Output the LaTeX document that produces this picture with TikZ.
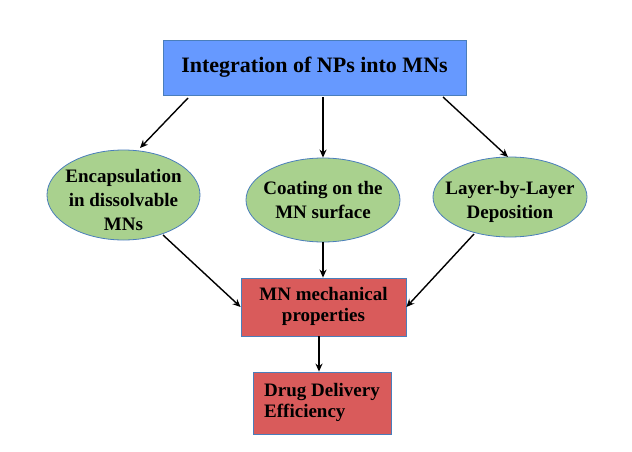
\documentclass[tikz,border=0pt]{standalone}
\usepackage{fontspec}
\setmainfont{Liberation Serif}
\usetikzlibrary{shapes.geometric,arrows.meta}
\definecolor{topblue}{HTML}{6699FF}
\definecolor{edgeblue}{HTML}{4A7EBB}
\definecolor{ovalgreen}{HTML}{A9D18E}
\definecolor{boxred}{HTML}{D95B5B}
\tikzset{
  topbox/.style={rectangle,draw=edgeblue,fill=topblue,line width=0.8pt,minimum width=303pt,minimum height=55pt,inner sep=0pt,font=\fontsize{22}{24}\selectfont\bfseries},
  oval/.style={ellipse,draw=edgeblue,fill=ovalgreen,line width=0.8pt,inner sep=0pt},
  ovaltext/.style={align=center,font=\fontsize{19}{24}\selectfont\bfseries,inner sep=0pt},
  redbox/.style={rectangle,draw=edgeblue,fill=boxred,line width=0.8pt,inner sep=0pt,align=left,font=\fontsize{19}{22}\selectfont\bfseries},
  conn/.style={-{Stealth[length=8pt,width=7pt]},line width=1.4pt,black}
}
\begin{document}
\begin{tikzpicture}[x=1pt,y=-1pt]
\useasboundingbox[fill=white] (0,0) rectangle (632,452);
\node[topbox] (top) at (314.5,67.5) {Integration of NPs into MNs};
\node[oval,minimum width=153pt,minimum height=90pt,label={[ovaltext,yshift=-5pt]center:Encapsulation\\ in dissolvable\\ MNs}] (enc) at (123.5,195) {};
\node[oval,minimum width=154pt,minimum height=84pt,label={[ovaltext]center:Coating on the\\ MN surface}] (coat) at (323,200) {};
\node[oval,minimum width=154pt,minimum height=80pt,label={[ovaltext,yshift=-5pt]center:Layer-by-Layer\\ Deposition}] (lbl) at (510,197) {};
\node[redbox,minimum width=165pt,minimum height=58pt] (mech) at (323.5,307) {\begin{tabular}{@{}c@{}}MN mechanical\\[-1pt] properties\end{tabular}};
\node[redbox,minimum width=138pt,minimum height=62pt] (drug) at (322,403) {\begin{tabular}{@{}l@{}}Drug Delivery\\[-1pt] Efficiency\end{tabular}};
\coordinate (a1s) at (188,98);
\coordinate (a3s) at (443,97);
\draw[conn] (a1s) -- (140,148);
\draw[conn] (323,97) -- (coat.north);
\draw[conn] (a3s) -- (508,157);
\coordinate (e1s) at (163,235);
\coordinate (e3s) at (474,234);
\draw[conn] (e1s) -- (mech.west);
\draw[conn] (coat.south) -- (mech.north -| coat.south);
\draw[conn] (e3s) -- (mech.east);
\draw[conn] (mech.south -| 319,0) -- (drug.north -| 319,0);
\end{tikzpicture}
\end{document}
